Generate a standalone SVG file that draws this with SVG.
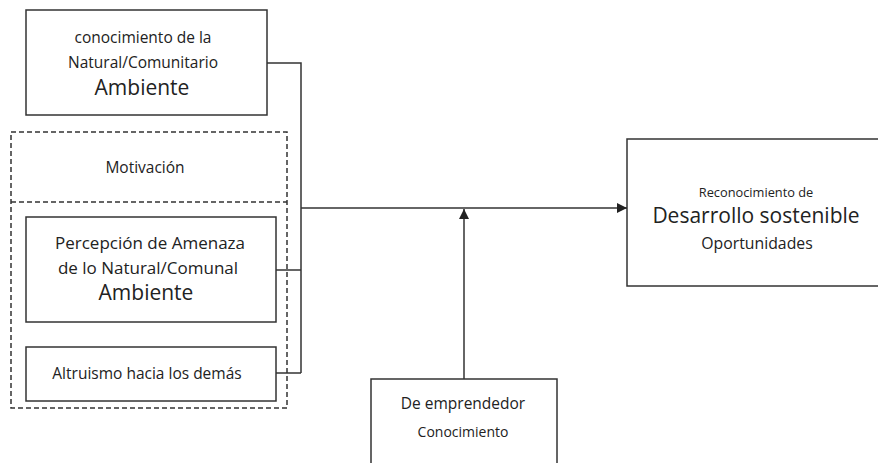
<svg xmlns="http://www.w3.org/2000/svg" width="878" height="463" viewBox="0 0 878 463">
<defs>
<style>
.box{fill:#fff;stroke:#333;stroke-width:1.5}
.dash{fill:none;stroke:#333;stroke-width:1.5;stroke-dasharray:5 3}
.ln{fill:none;stroke:#333;stroke-width:1.5}
text{font-family:"Open Sans","Noto Sans","DejaVu Sans",sans-serif;fill:#222;text-anchor:middle;dominant-baseline:central}
.s15{font-size:15.5px}
.s17{font-size:17px}
.s14{font-size:14px}
.s13{font-size:12.8px}
.s16{font-size:15.8px}
.s20{font-size:21px}
.s21{font-size:21px}
</style>
<marker id="arr" viewBox="0 0 10 10" refX="10" refY="5" markerWidth="10" markerHeight="10" markerUnits="userSpaceOnUse" orient="auto">
<path d="M0,0 L10,5 L0,10 Z" fill="#222"/>
</marker>
</defs>
<rect width="878" height="463" fill="#fff"/>
<g id="motivacion">
<rect class="dash" x="11" y="132" width="276" height="276"/>
<line class="dash" x1="11" y1="202" x2="287" y2="202"/>
<text class="s15" x="145" y="167">Motivación</text>
</g>
<g id="conocimiento">
<rect class="box" x="26" y="10" width="241" height="105"/>
<text class="s15" x="143" y="37">conocimiento de la</text>
<text class="s15" x="143" y="62">Natural/Comunitario</text>
<text class="s20" x="142" y="87">Ambiente</text>
</g>
<g id="percepcion">
<rect class="box" x="26" y="217" width="250" height="105"/>
<text class="s17" x="150" y="242">Percepción de Amenaza</text>
<text class="s17" x="148" y="267">de lo Natural/Comunal</text>
<text class="s20" x="146" y="292">Ambiente</text>
</g>
<g id="altruismo">
<rect class="box" x="26" y="347" width="250" height="54"/>
<text class="s15" x="147" y="373">Altruismo hacia los demás</text>
</g>
<g id="emprendedor">
<rect class="box" x="371" y="379" width="186" height="100"/>
<text class="s15" x="463" y="403">De emprendedor</text>
<text class="s14" x="463" y="431">Conocimiento</text>
</g>
<g id="desarrollo">
<rect class="box" x="627" y="139" width="260" height="147"/>
<text class="s13" x="756" y="192">Reconocimiento de</text>
<text class="s21" x="756" y="215">Desarrollo sostenible</text>
<text class="s16" x="757" y="243">Oportunidades</text>
</g>
<g id="connectors">
<path class="ln" d="M267,63 H301 V373"/>
<path class="ln" d="M276,270 H301"/>
<path class="ln" d="M276,373 H301"/>
<path class="ln" d="M301,208 H627" marker-end="url(#arr)"/>
<path class="ln" d="M464,379 V209" marker-end="url(#arr)"/>
</g>
</svg>
